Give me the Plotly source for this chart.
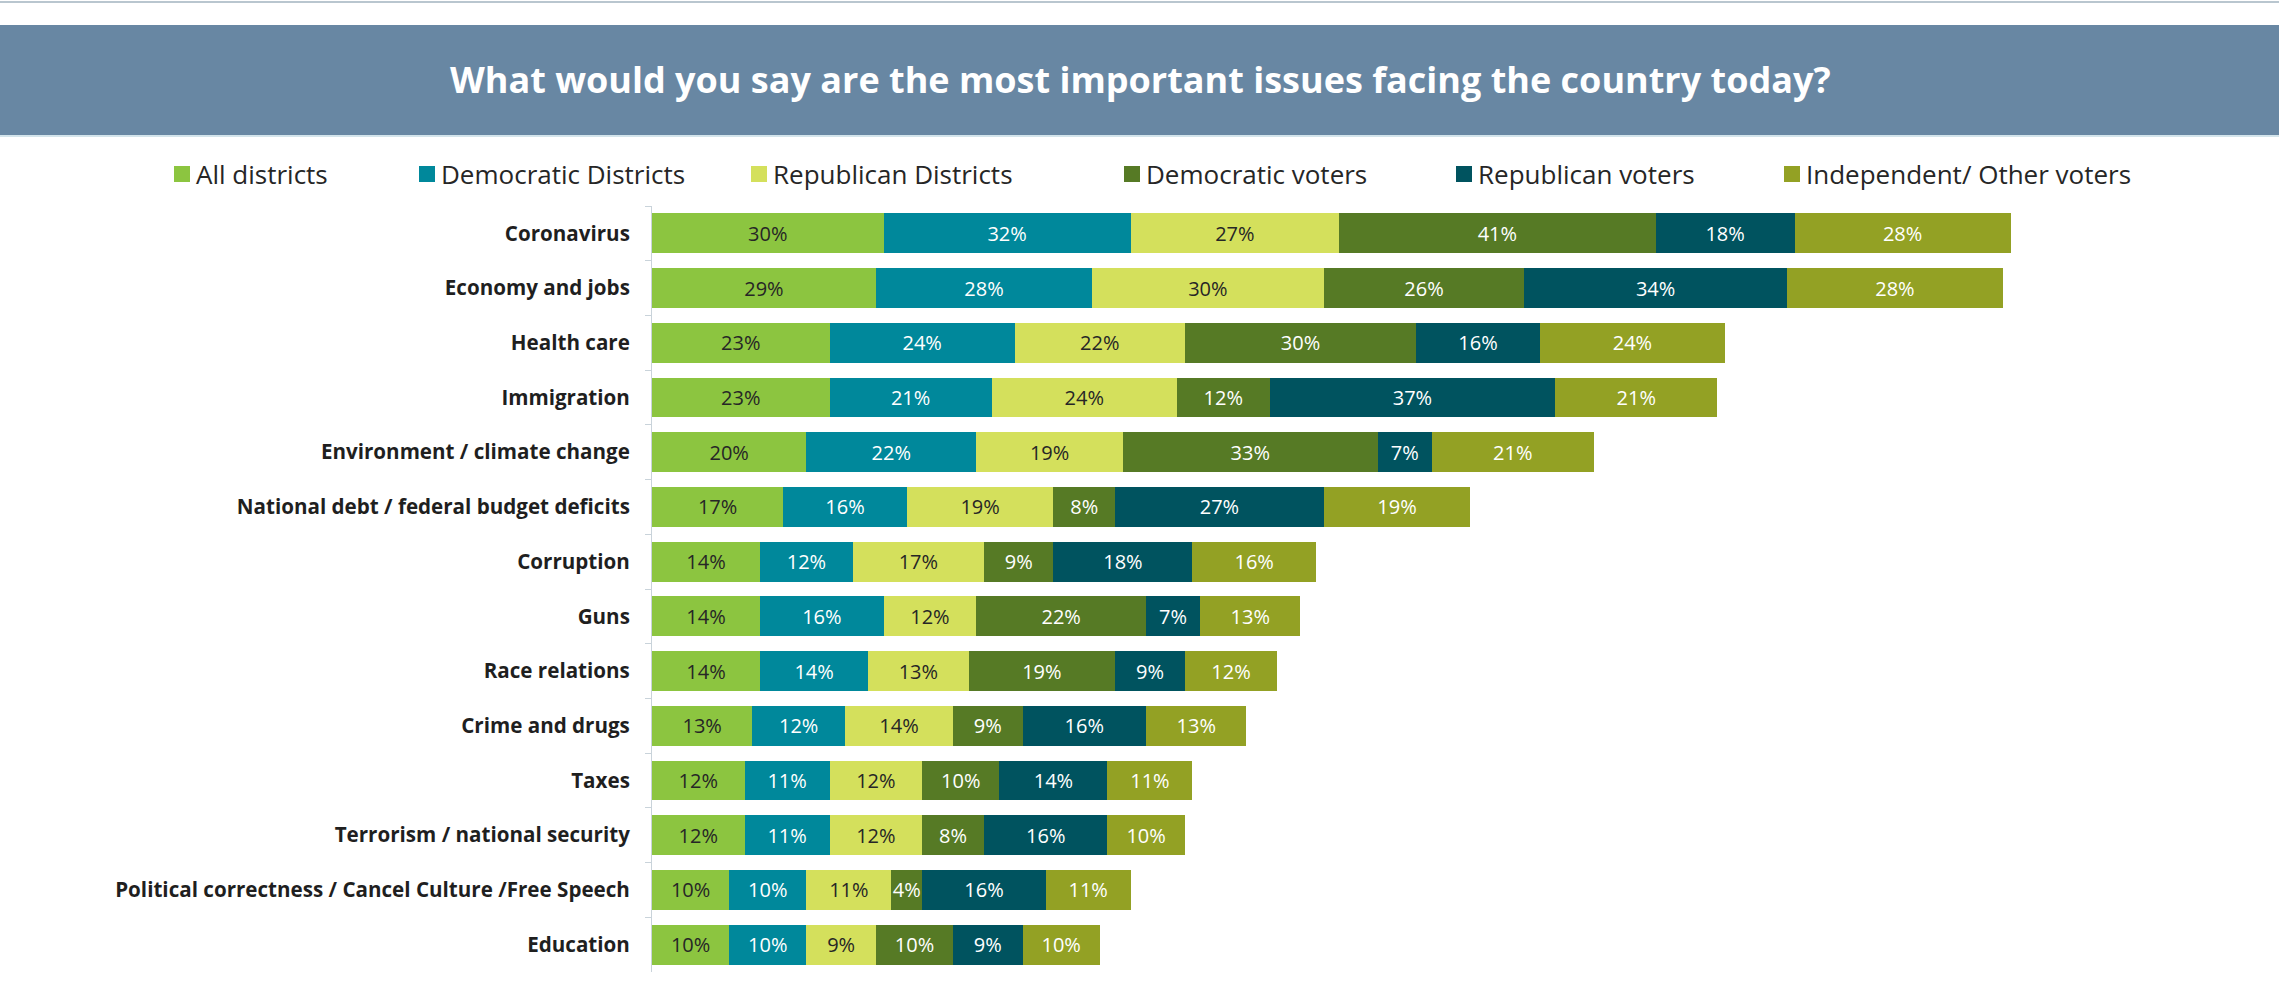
import plotly.graph_objects as go

# Survey results: share naming each issue, by group
issues = [
    "Coronavirus",
    "Economy and jobs",
    "Health care",
    "Immigration",
    "Environment / climate change",
    "National debt / federal budget deficits",
    "Corruption",
    "Guns",
    "Race relations",
    "Crime and drugs",
    "Taxes",
    "Terrorism / national security",
    "Political correctness / Cancel Culture /Free Speech",
    "Education",
]

series_names = [
    "All districts",
    "Democratic Districts",
    "Republican Districts",
    "Democratic voters",
    "Republican voters",
    "Independent/ Other voters",
]

all_districts = [30, 29, 23, 23, 20, 17, 14, 14, 14, 13, 12, 12, 10, 10]
democratic_districts = [32, 28, 24, 21, 22, 16, 12, 16, 14, 12, 11, 11, 10, 10]
republican_districts = [27, 30, 22, 24, 19, 19, 17, 12, 13, 14, 12, 12, 11, 9]
democratic_voters = [41, 26, 30, 12, 33, 8, 9, 22, 19, 9, 10, 8, 4, 10]
republican_voters = [18, 34, 16, 37, 7, 27, 18, 7, 9, 16, 14, 16, 16, 9]
independent_voters = [28, 28, 24, 21, 21, 19, 16, 13, 12, 13, 11, 10, 11, 10]

series_values = [
    all_districts,
    democratic_districts,
    republican_districts,
    democratic_voters,
    republican_voters,
    independent_voters,
]

# Styling
bar_colors = ["#8CC540", "#00889B", "#D4E05C", "#567A25", "#00535F", "#93A124"]
label_colors = ["#262626", "#FFFFFF", "#262626", "#FFFFFF", "#FFFFFF", "#FFFFFF"]
FONT = "Open Sans"

W, H = 2279, 994
ML, MR, MT, MB = 652, 50, 206, 22
PLOT_W = W - ML - MR
PLOT_H = H - MT - MB
PX_PER_UNIT = 7.72


def px_x(p):
    return (p - ML) / PLOT_W


def px_y(p):
    return (H - MB - p) / PLOT_H


fig = go.Figure()
for name, vals, color, tcolor in zip(series_names, series_values, bar_colors, label_colors):
    fig.add_trace(
        go.Bar(
            name=name,
            y=issues,
            x=vals,
            orientation="h",
            marker=dict(color=color, line=dict(width=0)),
            text=[f"{v}%" for v in vals],
            textposition="inside",
            insidetextanchor="middle",
            textangle=0,
            textfont=dict(family=FONT, size=20, color=tcolor),
            showlegend=False,
            hoverinfo="skip",
        )
    )

shapes = [
    # thin rule at the very top
    dict(type="line", xref="paper", yref="paper",
         x0=px_x(0), x1=px_x(W), y0=px_y(2), y1=px_y(2),
         line=dict(color="#B9C6CF", width=2)),
    # title band
    dict(type="rect", xref="paper", yref="paper",
         x0=px_x(0), x1=px_x(W), y0=px_y(135), y1=px_y(25),
         fillcolor="#6887A3", line=dict(width=0), layer="below"),
    dict(type="line", xref="paper", yref="paper",
         x0=px_x(0), x1=px_x(W), y0=px_y(136), y1=px_y(136),
         line=dict(color="#D3E4EB", width=2)),
]

annotations = [
    dict(text="<b>What would you say are the most important issues facing the country today?</b>",
         xref="paper", yref="paper", x=px_x(1140), y=px_y(80),
         xanchor="center", yanchor="middle", showarrow=False,
         font=dict(family=FONT, size=36, color="#FFFFFF")),
]

# Legend row: colour square followed by the series name
legend_square_left = [174, 419, 751, 1124, 1456, 1784]
for name, color, x0 in zip(series_names, bar_colors, legend_square_left):
    shapes.append(dict(type="rect", xref="paper", yref="paper",
                       x0=px_x(x0), x1=px_x(x0 + 16), y0=px_y(182), y1=px_y(166),
                       fillcolor=color, line=dict(width=0)))
    annotations.append(dict(text=name, xref="paper", yref="paper",
                            x=px_x(x0 + 20), y=px_y(174),
                            xanchor="left", yanchor="middle", showarrow=False,
                            font=dict(family=FONT, size=26, color="#262626")))

fig.update_layout(
    width=W,
    height=H,
    margin=dict(l=ML, r=MR, t=MT, b=MB, pad=0),
    barmode="stack",
    bargap=0.27,
    paper_bgcolor="#FFFFFF",
    plot_bgcolor="#FFFFFF",
    uniformtext=dict(minsize=20, mode="show"),
    shapes=shapes,
    annotations=annotations,
    xaxis=dict(visible=False, range=[0, PLOT_W / PX_PER_UNIT], fixedrange=True),
    yaxis=dict(
        type="category",
        categoryorder="array",
        categoryarray=issues,
        range=[len(issues) - 0.5, -0.5],
        showgrid=False,
        showline=True,
        linecolor="#C9D3DA",
        linewidth=1,
        ticks="outside",
        tickson="boundaries",
        ticklen=6,
        tickcolor="#C9D3DA",
        ticklabelstandoff=17,
        tickfont=dict(family=FONT, size=20.6, color="#1F1F1F", weight="bold"),
        fixedrange=True,
    ),
)

fig.write_html("out.html")
